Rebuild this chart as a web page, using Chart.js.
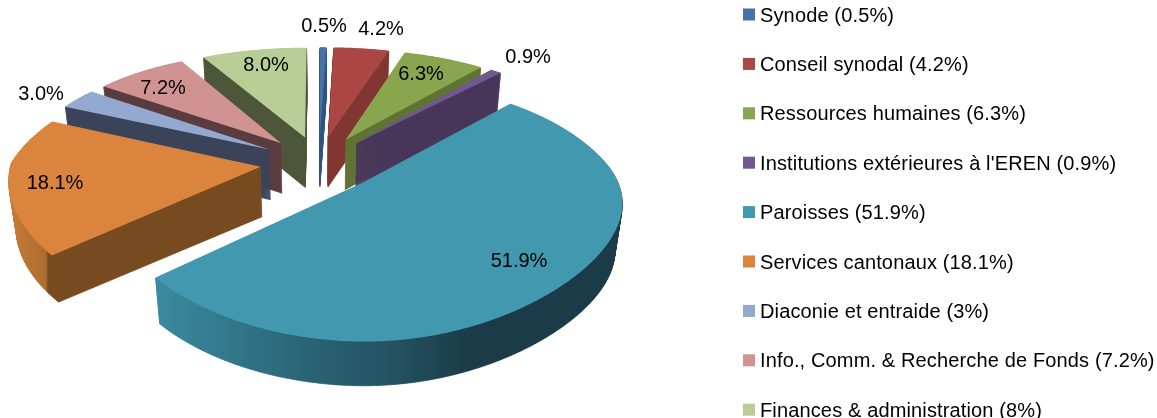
<!DOCTYPE html>
<html><head><meta charset="utf-8">
<style>html,body{margin:0;padding:0;background:#fff;overflow:hidden}canvas{display:block}</style>
<script src="https://cdn.jsdelivr.net/npm/chart.js@4"></script></head>
<body><canvas id="c" width="1157" height="418"></canvas>
<script>
const categories=["Synode","Conseil synodal","Ressources humaines","Institutions extérieures à l'EREN","Paroisses","Services cantonaux","Diaconie et entraide","Info., Comm. & Recherche de Fonds","Finances & administration"];
const values=[0.5,4.2,6.3,0.9,51.9,18.1,3,7.2,8];
const legendValues=["0.5","4.2","6.3","0.9","51.9","18.1","3","7.2","8"];
const dataLabels=["0.5%","4.2%","6.3%","0.9%","51.9%","18.1%","3.0%","7.2%","8.0%"];
const topColors=["#4573a7","#aa4644","#89a54e","#71588f","#4198af","#db843d","#93a9cf","#d19392","#b9cd96"];

// --- styling of the exploded 3D view ---
const explode=[0.235,0.235,0.235,0.235,0.235,0.235,0.235,0.235,0.235];
const drawOrder=[0,1,2,8,7,3,6,5,4];
const wallStops=[
 [[0,"#2e5480"]],[[0,"#823632"]],[[0,"#5f7335"]],[[0,"#48365a"]],
 [[160,"#3a899e"],[300,"#2a6676"],[400,"#24505f"],[470,"#1a3b47"],[620,"#1a3b47"]],
 [[10,"#c57c38"],[46,"#ad6c2e"],[48,"#774a20"],[300,"#774a20"]],
 [[0,"#3a4358"]],[[0,"#5a3c40"]],[[0,"#4e563a"]]];
const labelPos=[[324,26],[381,29],[421,74],[528,57],[519,261],[55,183],[41,94],[163,88],[266,65]];
const view={cx:319,cy:163,R:250,A:117,P:0.2,skewFrontLeft:30,skewFrontRight:35,skewBack:8,depth:50,floorShrink:0.025,frontFlat:0.1};
const legendBox={x:743,textX:760,firstY:16,step:49.4,size:12,boxLift:1.5};

function project(u,v,z){
  const w=1-view.P*v, f=Math.max(0,v), b=Math.max(0,-v);
  let dx=view.R*u/w;
  dx+=view.skewFrontLeft*Math.max(0,-u)*f;
  dx-=view.skewFrontRight*Math.max(0,u)*f*f;
  dx+=view.skewBack*u*b*b;
  dx*=1-view.floorShrink*z/view.depth;
  return [view.cx+dx, view.cy+view.A*v/w+z*(1-view.frontFlat*f)];
}
function arcContext(real,arc,ex,z,wallFill){
  const mid=(arc.startAngle+arc.endAngle)/2, r=arc.outerRadius;
  const ou=Math.cos(mid)*ex, ov=Math.sin(mid)*ex;
  const map=(px,py)=>project((px-arc.x)/r+ou,(py-arc.y)/r+ov,z);
  const over={
    translate(){},save(){real.save();},restore(){real.restore();},
    lineTo(x,y){const p=map(x,y);real.lineTo(p[0],p[1]);},
    moveTo(x,y){const p=map(x,y);real.moveTo(p[0],p[1]);},
    arc(x,y,rad,a0,a1,ccw){
      const n=Math.max(2,Math.ceil(Math.abs(a1-a0)/0.01));
      for(let i=0;i<=n;i++){const a=a0+(a1-a0)*i/n;const p=map(x+rad*Math.cos(a),y+rad*Math.sin(a));real.lineTo(p[0],p[1]);}
    },
    fill(){
      real.fill();
      if(wallFill){real.strokeStyle=wallFill;real.lineWidth=0.8;real.stroke();}
    }
  };
  return new Proxy(real,{
    get(t,k){if(k in over)return over[k];const val=t[k];return typeof val==='function'?val.bind(t):val;},
    set(t,k,val){if(k==='fillStyle'&&wallFill){t.fillStyle=wallFill;}else{t[k]=val;}return true;}
  });
}
const pie3d={
  id:'pie3d',
  beforeDatasetsDraw(chart){
    const ctx=chart.ctx, arcs=chart.getDatasetMeta(0).data;
    drawOrder.forEach(i=>{
      const g=ctx.createLinearGradient(0,0,1157,0);
      const st=wallStops[i];
      if(st.length===1){g.addColorStop(0,st[0][1]);g.addColorStop(1,st[0][1]);}
      else st.forEach(s=>g.addColorStop(s[0]/1157,s[1]));
      for(let z=view.depth;z>=1;z--) arcs[i].draw(arcContext(ctx,arcs[i],explode[i],z,g));
      arcs[i].draw(arcContext(ctx,arcs[i],explode[i],0,null));
    });
    return false;
  },
  afterDraw(chart){
    const ctx=chart.ctx;
    ctx.save();
    ctx.font='20px "Liberation Sans", Arial, sans-serif';
    ctx.fillStyle='#000';ctx.textAlign='center';ctx.textBaseline='middle';
    dataLabels.forEach((t,i)=>ctx.fillText(t,labelPos[i][0],labelPos[i][1]));
    ctx.textAlign='left';
    ctx.letterSpacing='0.14px';
    categories.forEach((c,i)=>{
      const y=legendBox.firstY+legendBox.step*i;
      ctx.fillStyle=topColors[i];
      ctx.fillRect(legendBox.x,y-legendBox.size/2-legendBox.boxLift,legendBox.size,legendBox.size);
      ctx.fillStyle='#000';
      ctx.fillText(c+" ("+legendValues[i]+"%)",legendBox.textX,y);
    });
    ctx.restore();
  }
};
new Chart(document.getElementById('c'),{
  type:'pie',
  data:{labels:categories,datasets:[{data:values,backgroundColor:topColors,borderWidth:0,offset:0}]},
  options:{responsive:false,animation:false,plugins:{legend:{display:false},tooltip:{enabled:false}}},
  plugins:[pie3d]
});
</script></body></html>
